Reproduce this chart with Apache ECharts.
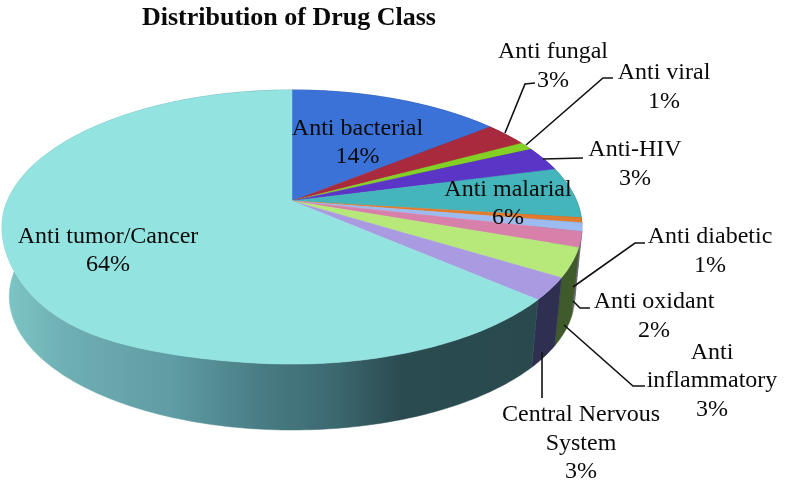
<!DOCTYPE html>
<html>
<head>
<meta charset="utf-8">
<script src="https://cdn.jsdelivr.net/npm/echarts@6/dist/echarts.min.js"></script>
<style>html,body{margin:0;padding:0;background:#fff}#c{width:786px;height:486px}</style>
</head>
<body>
<div id="c"></div>
<script>
const categories = ['Anti bacterial','Anti fungal','Anti viral','Anti-HIV','Anti malarial','Other','Anti diabetic','Anti oxidant','Anti inflammatory','Central Nervous System','Anti tumor/Cancer'];
const values = [14.2,2.9,0.95,2.9,6.0,0.6,1.0,1.8,3.4,2.6,63.65];
const topColors = ['#3a72d8','#a82a3c','#85d024','#5a35c6','#45b5bc','#e07a2c','#9cbcf0','#d680aa','#b6e97a','#a99ae2','#93e3e0'];
const sideColors = ['#1f3f78','#5e1722','#4a7414','#32206e','#266469','#7c4318','#56688a','#6e6a70','#3f5a2b','#2f2f52',null];

const labelTexts = ['Anti bacterial\n14%','Anti fungal\n3%','Anti viral\n1%','Anti-HIV\n3%','Anti malarial\n6%','Anti diabetic\n1%','Anti oxidant\n2%','Anti\ninflammatory\n3%','Central Nervous\nSystem\n3%','Anti tumor/Cancer\n64%'];
const labelCenters = [[357.5,142.5],[553,66],[664,87],[635,164],[508,203.5],[710,251],[654,316],[712,381],[581,443.5],[108,250.5]];
const leaders = [
  [[505,133],[525,84],[535,83]],
  [[526,145],[603,78],[613,78]],
  [[543,159],[583,158]],
  [[573,287],[635,243],[645,243]],
  [[573,301],[580,308],[590,308]],
  [[564,325],[633,386],[645,386]],
  [[542,352],[542,398]]
];

// perspective ellipse geometry
const cx = 292, cy = 201, A = 284.7, B = 132.1, K = 0.19, bottomScale = 0.975, depth = 70, bulge = 9;
const total = values.reduce((a, b) => a + b, 0);
const starts = [];
values.reduce((acc, v, i) => { starts[i] = acc; return acc + v; }, 0);

function rim(frac, lower) {
  const t = frac * 2 * Math.PI;
  const u = Math.sin(t), v = Math.cos(t), w = 1 + K * v;
  const s = lower ? bottomScale : 1, d = lower ? depth : 0;
  // the reference's top face sags slightly toward the lower left
  const sag = (!lower && u < 0 && v < 0) ? bulge * Math.pow(4 * u * u * v * v, 1.5) : 0;
  return [cx + s * A * u / w, cy + d - s * B * v / w + sag];
}
function arc(i, lower) {
  const a = starts[i] / total, b = (starts[i] + values[i]) / total;
  const n = Math.max(4, Math.ceil((b - a) * 360));
  const pts = [];
  for (let k = 0; k <= n; k++) pts.push(rim(a + (b - a) * k / n, lower));
  return pts;
}
const tumorSide = {
  type: 'linear', x: 0, y: 0, x2: 786, y2: 0, global: true,
  colorStops: [
    {offset: 0, color: '#7fc7c7'},
    {offset: 0.08, color: '#6fb0b4'},
    {offset: 0.22, color: '#5f9ca3'},
    {offset: 0.34, color: '#477a82'},
    {offset: 0.42, color: '#3d6a72'},
    {offset: 0.51, color: '#2a4b50'},
    {offset: 1, color: '#28464c'}
  ]
};

const option = {
  animation: false,
  backgroundColor: '#fff',
  title: {
    text: 'Distribution of Drug Class',
    left: 137, top: 0,
    textStyle: {fontFamily: 'Liberation Serif', fontSize: 26, fontWeight: 'bold', color: '#0a0a0a'}
  },
  series: [
    {
      type: 'custom', coordinateSystem: 'none', z: 1, silent: true,
      data: values,
      renderItem(params) {
        const i = params.dataIndex;
        const pts = arc(i, false).concat(arc(i, true).reverse());
        const fill = sideColors[i] || tumorSide;
        return {type: 'polygon', shape: {points: pts}, style: {fill: fill, stroke: fill, lineWidth: 0.5}};
      }
    },
    {
      type: 'custom', coordinateSystem: 'none', z: 2, silent: true,
      data: values,
      renderItem(params) {
        const i = params.dataIndex;
        const pts = [[cx, cy]].concat(arc(i, false));
        return {type: 'polygon', shape: {points: pts}, style: {fill: topColors[i], stroke: topColors[i], lineWidth: 0.5}};
      }
    },
    {
      type: 'custom', coordinateSystem: 'none', z: 3, silent: true,
      data: leaders.map((_, i) => i),
      renderItem(params) {
        return {type: 'polyline', shape: {points: leaders[params.dataIndex]}, style: {fill: null, stroke: '#111', lineWidth: 1.6}};
      }
    },
    {
      type: 'custom', coordinateSystem: 'none', z: 4, silent: true,
      data: labelTexts,
      renderItem(params) {
        const c = labelCenters[params.dataIndex];
        return {type: 'text', x: c[0], y: c[1], style: {
          text: labelTexts[params.dataIndex], align: 'center', verticalAlign: 'middle',
          fontFamily: 'Liberation Serif', fontSize: 24, lineHeight: 28.5, fill: '#0a0a0a'
        }};
      }
    }
  ]
};
echarts.init(document.getElementById('c'), null, {renderer: 'canvas'}).setOption(option);
</script>
</body>
</html>
